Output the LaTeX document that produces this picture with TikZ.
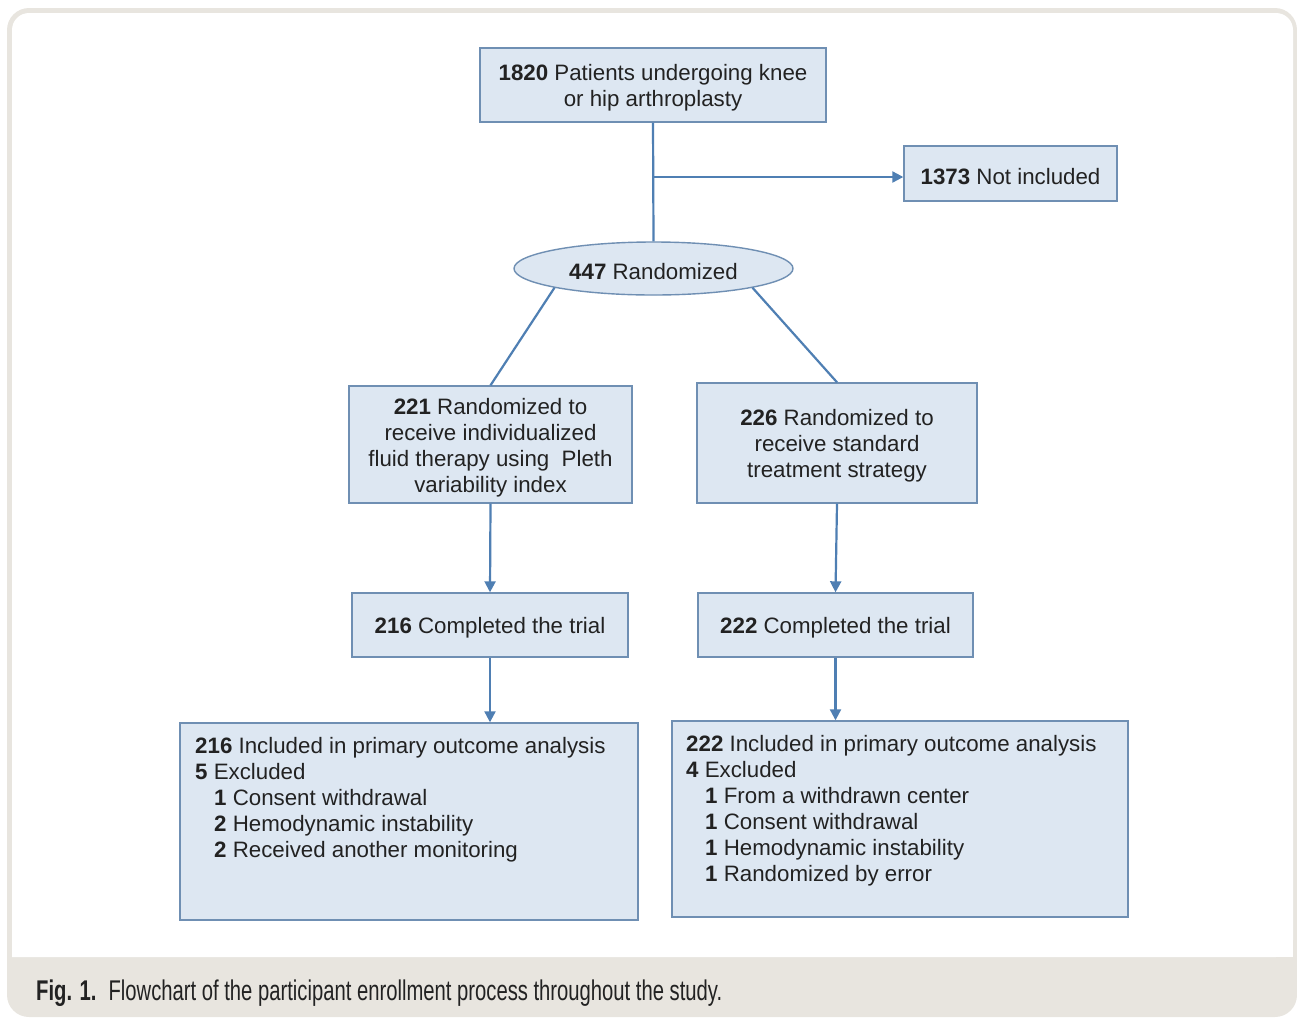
\documentclass[tikz,border=0pt]{standalone}
\usepackage{fontspec}
\setmainfont{Liberation Sans}
\newfontfamily\capfont[FakeStretch=0.71]{Liberation Sans}
\usetikzlibrary{shapes.geometric,arrows.meta}
\definecolor{framec}{HTML}{E8E5DF}
\definecolor{boxc}{HTML}{DDE7F2}
\definecolor{bordc}{HTML}{6F8FB3}
\definecolor{linec}{HTML}{4F7FB3}
\definecolor{txt}{HTML}{222222}
\newcommand{\fsz}{\fontsize{22.3}{26}\selectfont}
\tikzset{
  box/.style={draw=bordc, fill=boxc, line width=1.4pt, inner sep=0pt},
  btext/.style={inner sep=0pt, text=txt, font=\fsz, align=center, yshift=-3pt},
  conn/.style={draw=linec, line width=2.2pt},
  arr/.style={conn, -{Triangle[length=11pt,width=11pt]}},
  listtext/.style={anchor=north west, inner sep=0pt, text=txt, font=\fsz, align=left}
}
\begin{document}
\begin{tikzpicture}[x=1pt,y=-1pt]
\useasboundingbox (0,0) rectangle (1297,1018);
% frame
\fill[framec, rounded corners=22pt] (7,8) rectangle (1297,1017);
\fill[white, rounded corners=17pt] (12,957) -- (12,13) -- (1293,13) -- (1293,957) [sharp corners] -- cycle;
\fill[white] (12,930) rectangle (1293,957);
\node[anchor=base west, inner sep=0pt, text=txt, font=\capfont\fontsize{28.5}{30}\selectfont] (cap) at (36,1000)
  {\textbf{Fig. 1.}\hspace{12pt}Flowchart of the participant enrollment process throughout the study.};
% boxes
\node[box, minimum width=346pt, minimum height=74pt] (top) at (653,85) {};
\node[box, minimum width=213pt, minimum height=55pt] (ni) at (1010.5,173.5) {};
\node[box, ellipse, minimum width=279pt, minimum height=53pt] (ell) at (653.5,268.5) {};
\node[box, minimum width=283pt, minimum height=117pt] (b2l) at (490.5,444.5) {};
\node[box, minimum width=280pt, minimum height=120pt] (b2r) at (837,443) {};
\node[box, minimum width=276pt, minimum height=64pt] (b3l) at (490,625) {};
\node[box, minimum width=275pt, minimum height=64pt] (b3r) at (835.5,625) {};
\node[box, minimum width=458pt, minimum height=197pt] (b4l) at (409,821.5) {};
\node[box, minimum width=456pt, minimum height=196pt] (b4r) at (900,819) {};
% texts
\node[btext] (toptx) at (top.center) {\textbf{1820} Patients undergoing knee\\or hip arthroplasty};
\node[btext] (nitx) at (ni.center) {\textbf{1373} Not included};
\node[btext] (elltx) at (ell.center) {\textbf{447} Randomized};
\node[btext] (b2ltx) at (b2l.center)
  {\textbf{221} Randomized to\\receive individualized\\fluid therapy using\ \ Pleth\\variability index};
\node[btext] (b2rtx) at (b2r.center)
  {\textbf{226} Randomized to\\receive standard\\treatment strategy};
\node[btext] (b3ltx) at (b3l.center) {\textbf{216} Completed the trial};
\node[btext] (b3rtx) at (b3r.center) {\textbf{222} Completed the trial};
\node[listtext] (t4l) at (195,737)
  {\textbf{216} Included in primary outcome analysis\\
   \textbf{5} Excluded\\
   \hspace*{19pt}\textbf{1} Consent withdrawal\\
   \hspace*{19pt}\textbf{2} Hemodynamic instability\\
   \hspace*{19pt}\textbf{2} Received another monitoring};
\node[listtext] (t4r) at (686,735)
  {\textbf{222} Included in primary outcome analysis\\
   \textbf{4} Excluded\\
   \hspace*{19pt}\textbf{1} From a withdrawn center\\
   \hspace*{19pt}\textbf{1} Consent withdrawal\\
   \hspace*{19pt}\textbf{1} Hemodynamic instability\\
   \hspace*{19pt}\textbf{1} Randomized by error};
% connectors
\coordinate (br) at (653,177);
\draw[conn] (top.south) -- (ell.north);
\draw[arr] (br) -- (br -| ni.west);
\draw[conn] (ell.191) -- (b2l.north);
\draw[conn] (ell.349) -- (b2r.north);
\draw[arr] (b2l.south) -- (b3l.north);
\draw[arr] (b2r.south) -- (b3r.north);
\draw[arr] (b3l.south) -- (b3l.south |- b4l.north);
\draw[arr] (b3r.south) -- (b3r.south |- b4r.north);
\end{tikzpicture}
\end{document}
